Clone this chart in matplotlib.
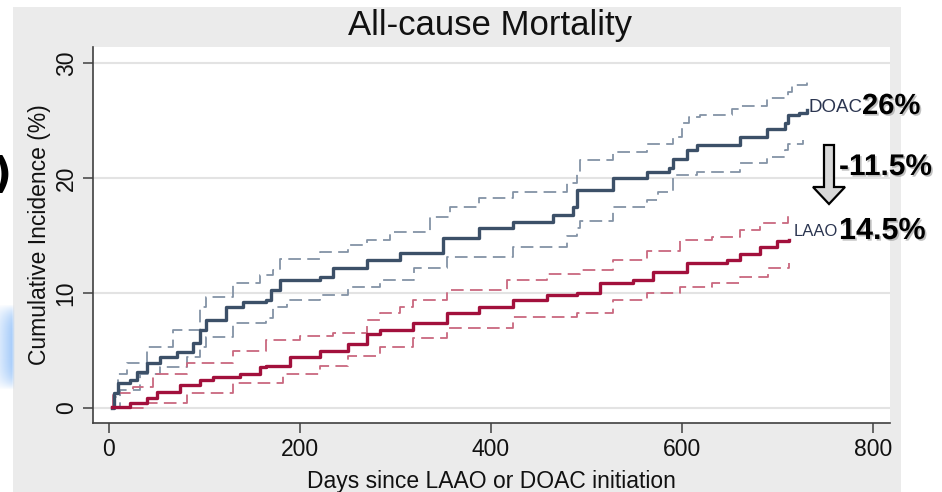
import numpy as np
import matplotlib
matplotlib.use("Agg")
import matplotlib.pyplot as plt
import matplotlib.patches as mpatches
import matplotlib.patheffects as pe

plt.rcParams['font.family'] = ['Liberation Sans', 'DejaVu Sans']

# ---------------- data ----------------
title = "All-cause Mortality"
xlabel = "Days since LAAO or DOAC initiation"
ylabel = "Cumulative Incidence (%)"
x_ticks = [0, 200, 400, 600, 800]
y_ticks = [0, 10, 20, 30]

doac_days = [3, 5, 9, 22, 29, 40, 53, 71, 88, 95, 102, 123, 140, 165, 170, 179, 221, 235, 270,
             305, 350, 388, 423, 465, 486, 490, 528, 563, 587, 591, 605, 616, 661, 689, 708,
             711, 723, 731]
doac_vals = [0, 1.3, 2.2, 2.4, 3.1, 3.9, 4.4, 4.9, 5.7, 6.8, 7.7, 8.8, 9.2, 9.4, 10.3, 11.1,
             11.4, 12.2, 12.9, 13.5, 14.8, 15.7, 16.2, 16.8, 17.5, 19.0, 20.0, 20.5, 20.9, 21.7,
             22.4, 22.9, 23.6, 24.3, 24.8, 25.5, 25.7, 25.9]

doac_hi_days = [3, 4, 9, 19, 40, 67, 95, 102, 130, 158, 172, 179, 221, 250, 270, 294, 336, 357,
                388, 423, 480, 490, 493, 528, 563, 591, 600, 608, 619, 653, 661, 689, 711, 715, 731]
doac_hi_vals = [0.3, 1.0, 3.0, 3.9, 5.3, 6.8, 8.8, 9.7, 10.9, 11.6, 12.0, 13.0, 13.6, 14.2, 14.6,
                15.3, 16.6, 17.5, 18.3, 18.8, 19.6, 20.4, 21.6, 22.3, 23.0, 23.6, 24.8, 25.3,
                25.5, 26.0, 26.3, 27.0, 27.5, 28.1, 28.5]

doac_lo_days = [3, 12, 32, 53, 82, 95, 102, 130, 165, 172, 186, 221, 250, 284, 320, 354, 423,
                480, 490, 493, 528, 563, 575, 591, 616, 661, 689, 708, 711, 727]
doac_lo_vals = [0.1, 1.6, 3.0, 3.6, 4.4, 5.3, 6.2, 7.4, 7.8, 8.8, 9.4, 9.8, 10.5, 11.1, 12.2,
                13.1, 14.0, 15.0, 15.7, 16.3, 17.5, 18.1, 18.8, 20.3, 20.5, 21.3, 21.8, 22.4,
                23.0, 23.3]

laao_days = [3, 22, 40, 50, 74, 95, 109, 137, 158, 165, 190, 221, 250, 270, 284, 318, 354, 388,
             423, 459, 490, 514, 549, 570, 605, 647, 661, 682, 700, 712]
laao_vals = [0.1, 0.4, 0.9, 1.4, 2.0, 2.4, 2.7, 3.0, 3.6, 3.7, 4.4, 5.0, 5.6, 6.4, 6.8, 7.4, 8.3,
             8.8, 9.4, 9.8, 10.0, 10.9, 11.1, 11.8, 12.6, 12.9, 13.4, 14.0, 14.5, 14.6]

laao_hi_days = [3, 4, 25, 46, 82, 130, 165, 200, 235, 270, 284, 305, 318, 354, 417, 459, 493,
                528, 563, 598, 632, 661, 682, 711]
laao_hi_vals = [0.2, 1.3, 1.8, 3.0, 3.9, 5.0, 5.9, 6.3, 6.5, 7.7, 8.3, 8.8, 9.4, 10.3, 11.1, 11.7,
                12.0, 12.9, 13.7, 14.6, 14.9, 15.5, 16.1, 17.0]

laao_lo_days = [3, 40, 82, 130, 182, 221, 250, 284, 318, 354, 423, 490, 528, 563, 598, 632, 661,
                690, 712]
laao_lo_vals = [0.0, 0.4, 1.3, 2.2, 3.0, 3.7, 4.5, 5.3, 6.1, 7.0, 7.9, 8.3, 9.4, 10.0, 10.5, 10.9,
                11.4, 12.2, 12.6]

doac_label, doac_pct = "DOAC", "26%"
laao_label, laao_pct = "LAAO", "14.5%"
diff_label = "-11.5%"

# ---------------- figure ----------------
W, H = 942, 492
fig = plt.figure(figsize=(W / 100, H / 100), dpi=100)
fig.patch.set_facecolor('white')


def fx(px):
    return px / W


def fy(py):
    return 1 - py / H


# gray Stata-like background panel
fig.patches.append(mpatches.Rectangle((fx(13), 0), fx(901) - fx(13), fy(7), transform=fig.transFigure,
                                      facecolor='#ebebeb', edgecolor='none', zorder=-2))

# left-edge artifacts from the slide: soft blue glow and a clipped bracket
gax = fig.add_axes([0, fy(390), fx(20), fy(305) - fy(390)], zorder=-1)
gx = np.linspace(0, 1, 60)
gy = np.linspace(-1, 1, 90)
GX, GY = np.meshgrid(gx, gy)
core = np.where(GX <= 0.6, 0.45 + 0.55 * GX / 0.6, np.clip(1 - (GX - 0.6) / 0.15, 0, 1))
alpha = core * np.clip(1.0 - np.abs(GY) ** 4, 0, 1)
rgba = np.zeros(GX.shape + (4,))
rgba[..., 0], rgba[..., 1], rgba[..., 2] = 0.60, 0.77, 0.98
rgba[..., 3] = alpha * 0.85
gax.imshow(rgba, aspect='auto', extent=[0, 1, 0, 1], interpolation='bilinear')
gax.set_axis_off()
fig.text(fx(-7), fy(176), ")", fontsize=30, fontweight='bold', color='black',
         ha='left', va='center', family=['DejaVu Sans'])

ax = fig.add_axes([fx(93), fy(423), fx(890) - fx(93), fy(47) - fy(423)])
ax.set_facecolor('white')
ax.set_xlim(-16.7, 818)
ax.set_ylim(-1.3, 31.4)

for y in y_ticks:
    ax.axhline(y, color='#e3e3e3', lw=1.5, zorder=1)

doac_c, doac_ci = '#3c5068', '#8493a6'
laao_c, laao_ci = '#a2103c', '#c9687f'
dash = (0, (7, 3.5))

ax.step(doac_hi_days, doac_hi_vals, where='post', color=doac_ci, lw=1.3, linestyle=dash, zorder=2)
ax.step(doac_lo_days, doac_lo_vals, where='post', color=doac_ci, lw=1.3, linestyle=dash, zorder=2)
ax.step(laao_hi_days, laao_hi_vals, where='post', color=laao_ci, lw=1.3, linestyle=dash, zorder=2)
ax.step(laao_lo_days, laao_lo_vals, where='post', color=laao_ci, lw=1.3, linestyle=dash, zorder=2)
ax.step(doac_days, doac_vals, where='post', color=doac_c, lw=2.4, zorder=3)
ax.step(laao_days, laao_vals, where='post', color=laao_c, lw=2.4, zorder=3)

for s in ['top', 'right']:
    ax.spines[s].set_visible(False)
for s in ['left', 'bottom']:
    ax.spines[s].set_color('#404040')
    ax.spines[s].set_linewidth(1.2)

ax.set_xticks(x_ticks)
ax.set_yticks(y_ticks)
ax.tick_params(axis='both', direction='out', length=7, width=1.1, color='#404040',
               labelsize=16.5, labelcolor='#111111')
ax.tick_params(axis='y', pad=4)
for lab in ax.get_yticklabels():
    lab.set_rotation(90)
    lab.set_va('center')

ax.set_xlabel(xlabel, fontsize=16.5, color='#111111', labelpad=7)
ax.set_ylabel(ylabel, fontsize=16.5, color='#111111', labelpad=3)
fig.text(fx(490), fy(26), title, fontsize=25, color='#111111', ha='center', va='center')

# right-hand annotations
shadow = [pe.withSimplePatchShadow(offset=(1.2, -1.2), shadow_rgbFace='#999999', alpha=0.6)]
small_c = '#2b3550'
fig.text(fx(808), fy(108), doac_label, fontsize=13.5, color=small_c, ha='left', va='center')
fig.text(fx(862), fy(106), doac_pct, fontsize=21, fontweight='bold', color='black',
         ha='left', va='center', path_effects=shadow)
fig.text(fx(838), fy(232), laao_label, fontsize=12, color=small_c, ha='right', va='center')
fig.text(fx(839), fy(231), laao_pct, fontsize=22, fontweight='bold', color='black',
         ha='left', va='center', path_effects=shadow)
fig.text(fx(839), fy(167), diff_label, fontsize=21.5, fontweight='bold', color='black',
         ha='left', va='center', path_effects=shadow)

arrow_px = [(824, 145), (834, 145), (834, 187), (845, 187), (829, 204), (813, 187), (824, 187)]
fig.patches.append(mpatches.Polygon([(fx(x), fy(y)) for x, y in arrow_px], closed=True,
                                    transform=fig.transFigure, facecolor='#d9d9d9',
                                    edgecolor='black', lw=1.6, zorder=5))

fig.savefig('out.png', dpi=100)
